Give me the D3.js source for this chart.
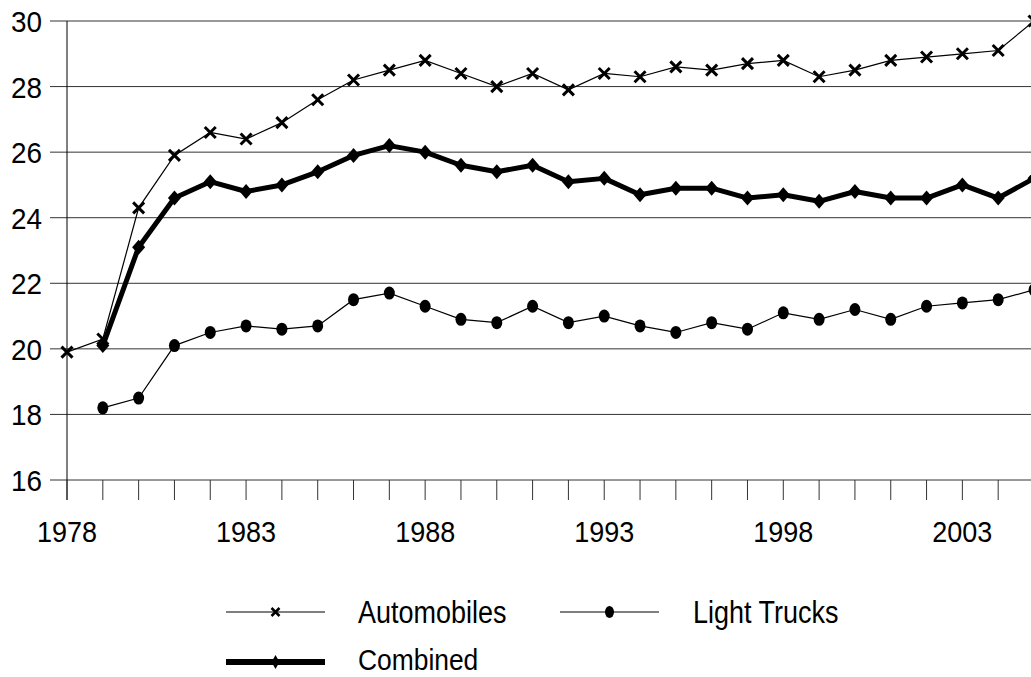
<!DOCTYPE html>
<html>
<head>
<meta charset="utf-8">
<script src="https://cdn.jsdelivr.net/npm/d3@7"></script>
<style>
  html, body { margin: 0; padding: 0; background: #fff; overflow: hidden; }
  svg { display: block; }
  text { font-family: "Liberation Sans", Arial, sans-serif; fill: #000; }
</style>
</head>
<body>
<svg id="chart" width="1031" height="677"></svg>
<script>
const years = d3.range(1978, 2006);
const automobiles = [19.9,20.3,24.3,25.9,26.6,26.4,26.9,27.6,28.2,28.5,28.8,28.4,28.0,28.4,27.9,28.4,28.3,28.6,28.5,28.7,28.8,28.3,28.5,28.8,28.9,29.0,29.1,30.0];
const lightTrucks = [null,18.2,18.5,20.1,20.5,20.7,20.6,20.7,21.5,21.7,21.3,20.9,20.8,21.3,20.8,21.0,20.7,20.5,20.8,20.6,21.1,20.9,21.2,20.9,21.3,21.4,21.5,21.8];
const combined = [null,20.1,23.1,24.6,25.1,24.8,25.0,25.4,25.9,26.2,26.0,25.6,25.4,25.6,25.1,25.2,24.7,24.9,24.9,24.6,24.7,24.5,24.8,24.6,24.6,25.0,24.6,25.2];
const yTicks = [16,18,20,22,24,26,28,30];
const xLabelYears = [1978,1983,1988,1993,1998,2003];
const seriesNames = ["Automobiles","Light Trucks","Combined"];

const svg = d3.select("#chart");
const x = d3.scaleLinear().domain([1978, 2005]).range([67, 1034]);
const y = d3.scaleLinear().domain([16, 30]).range([480, 21]);

// gridlines
svg.append("g").selectAll("line").data(yTicks).join("line")
  .attr("x1", 50).attr("x2", 1040)
  .attr("y1", d => y(d)).attr("y2", d => y(d))
  .attr("stroke", "#333").attr("stroke-width", 1);

// y axis line
svg.append("line").attr("x1", x(1978)).attr("x2", x(1978))
  .attr("y1", y(30)).attr("y2", y(16) + 20)
  .attr("stroke", "#000").attr("stroke-width", 1);

// x ticks
svg.append("g").selectAll("line").data(years).join("line")
  .attr("x1", d => x(d)).attr("x2", d => x(d))
  .attr("y1", y(16)).attr("y2", y(16) + 20)
  .attr("stroke", "#333").attr("stroke-width", 1);

function label(sel, tx, ty, txt, size, sx, anchor) {
  sel.append("text")
    .attr("transform", `translate(${tx},${ty}) scale(${sx},1)`)
    .attr("text-anchor", anchor)
    .style("font-size", size + "px")
    .text(txt);
}

// y labels
const yl = svg.append("g");
yTicks.forEach(t => label(yl, 42, y(t) + 11, t, 30, 0.93, "end"));
// x labels
const xl = svg.append("g");
xLabelYears.forEach(t => label(xl, x(t), 542, t, 30, 0.9, "middle"));

const lineGen = d3.line()
  .defined(d => d[1] != null)
  .x(d => x(d[0])).y(d => y(d[1]));

function pts(vals) { return years.map((yr, i) => [yr, vals[i]]).filter(d => d[1] != null); }

function xMark(g, cx, cy, r, w) {
  g.append("path")
    .attr("d", `M${cx-r},${cy-r}L${cx+r},${cy+r}M${cx-r},${cy+r}L${cx+r},${cy-r}`)
    .attr("stroke", "#000").attr("stroke-width", w).attr("fill", "none");
}
function diamond(g, cx, cy, rx, ry) {
  g.append("path")
    .attr("d", `M${cx},${cy-ry}L${cx+rx},${cy}L${cx},${cy+ry}L${cx-rx},${cy}Z`)
    .attr("fill", "#000");
}

// Automobiles
const gA = svg.append("g");
gA.append("path").datum(pts(automobiles)).attr("d", lineGen)
  .attr("fill", "none").attr("stroke", "#000").attr("stroke-width", 1.2);
pts(automobiles).forEach(d => xMark(gA, x(d[0]), y(d[1]), 5.5, 3));

// Light Trucks
const gT = svg.append("g");
gT.append("path").datum(pts(lightTrucks)).attr("d", lineGen)
  .attr("fill", "none").attr("stroke", "#000").attr("stroke-width", 1.2);
gT.selectAll("ellipse").data(pts(lightTrucks)).join("ellipse")
  .attr("cx", d => x(d[0])).attr("cy", d => y(d[1]))
  .attr("rx", 5.5).attr("ry", 6.5).attr("fill", "#000");

// Combined
const gC = svg.append("g");
gC.append("path").datum(pts(combined)).attr("d", lineGen)
  .attr("fill", "none").attr("stroke", "#000").attr("stroke-width", 5)
  .attr("stroke-linejoin", "round");
pts(combined).forEach(d => diamond(gC, x(d[0]), y(d[1]), 6.5, 7.5));

// Legend
const lg = svg.append("g");
lg.append("line").attr("x1", 226).attr("x2", 325).attr("y1", 612).attr("y2", 612)
  .attr("stroke", "#000").attr("stroke-width", 1.2);
xMark(lg, 275.5, 612, 4, 2.5);
label(lg, 358, 623, seriesNames[0], 31, 0.87, "start");

lg.append("line").attr("x1", 560).attr("x2", 659).attr("y1", 612).attr("y2", 612)
  .attr("stroke", "#000").attr("stroke-width", 1.2);
lg.append("ellipse").attr("cx", 609.5).attr("cy", 612).attr("rx", 4.5).attr("ry", 6).attr("fill", "#000");
label(lg, 693, 623, seriesNames[1], 31, 0.87, "start");

lg.append("line").attr("x1", 226).attr("x2", 325).attr("y1", 662).attr("y2", 662)
  .attr("stroke", "#000").attr("stroke-width", 6);
diamond(lg, 275.5, 662, 4, 7);
label(lg, 358, 670, seriesNames[2], 30, 0.88, "start");
</script>
</body>
</html>
